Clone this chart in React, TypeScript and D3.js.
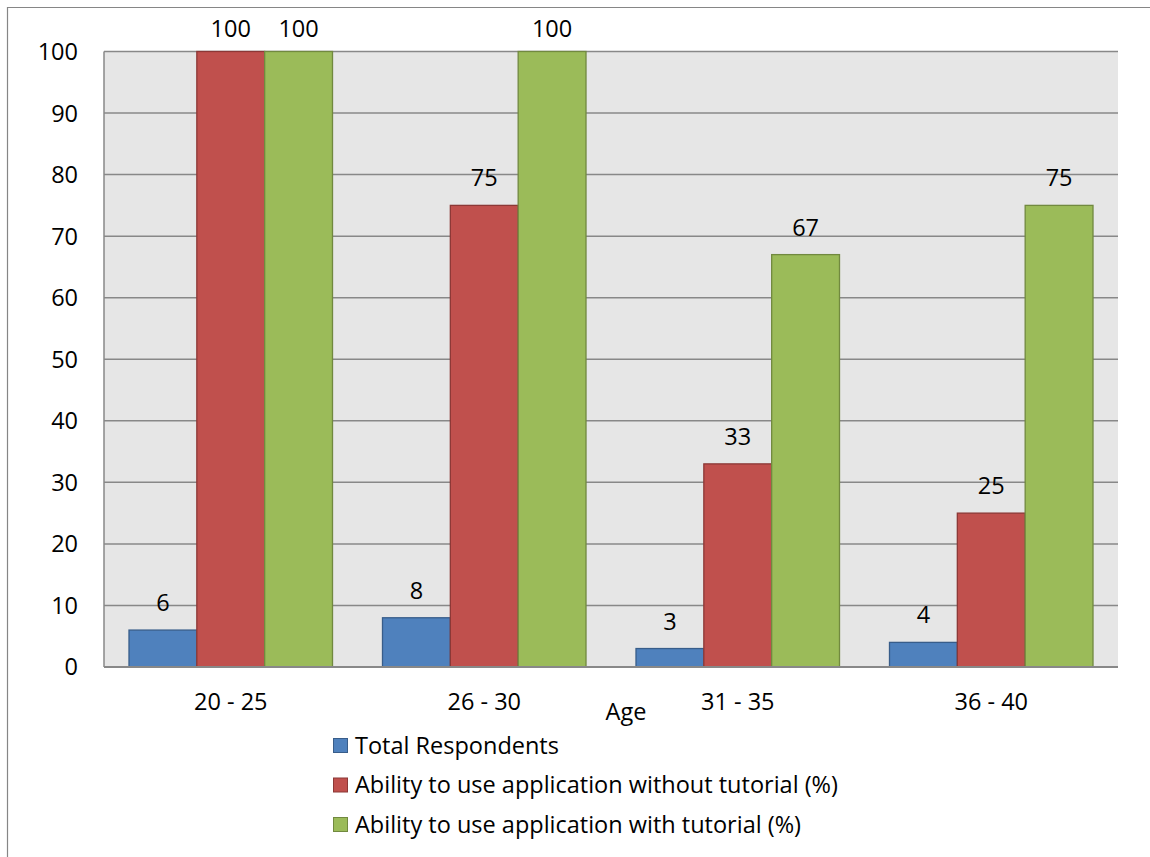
import React from "react";
import * as d3 from "d3";

const ageGroups = ["20 - 25", "26 - 30", "31 - 35", "36 - 40"];
const seriesNames = [
  "Total Respondents",
  "Ability to use application without tutorial (%)",
  "Ability to use application with tutorial (%)",
];
const totalRespondents = [6, 8, 3, 4];
const withoutTutorial = [100, 75, 33, 25];
const withTutorial = [100, 100, 67, 75];
const yTicks = [0, 10, 20, 30, 40, 50, 60, 70, 80, 90, 100];

const fills = ["#4F81BD", "#C0504D", "#9BBB59"];
const strokes = ["#385D8A", "#8C3836", "#71893F"];

const W = 1150;
const H = 857;
const plot = { left: 104, right: 1118, top: 51.5, bottom: 667 };
const FONT = "'Open Sans', Lato, sans-serif";
const FS = 23.5;

export default function App() {
  const seriesValues = [totalRespondents, withoutTutorial, withTutorial];

  const x = d3.scaleBand<string>().domain(ageGroups).range([plot.left, plot.right]).padding(0);
  const groupPad = 25;
  const xInner = d3
    .scaleBand<string>()
    .domain(seriesNames)
    .range([groupPad, x.bandwidth() - groupPad])
    .padding(0);
  const y = d3.scaleLinear().domain([0, 100]).range([plot.bottom, plot.top]);

  return (
    <svg
      width={W}
      height={H}
      style={{ position: "absolute", left: 0, top: 0, background: "#fff" }}
      fontFamily={FONT}
    >
      {/* chart frame */}
      <path d={`M7.5,${H + 2} V7.5 H${W + 2}`} fill="none" stroke="#868686" strokeWidth={1.2} />

      {/* plot area */}
      <rect
        x={plot.left}
        y={plot.top}
        width={plot.right - plot.left}
        height={plot.bottom - plot.top}
        fill="#E6E6E6"
      />
      {yTicks
        .filter((t) => t > 0)
        .map((t) => (
          <line
            key={t}
            x1={plot.left}
            x2={plot.right}
            y1={y(t)}
            y2={y(t)}
            stroke="#888"
            strokeWidth={1.5}
          />
        ))}
      <line x1={plot.left} x2={plot.left} y1={plot.top} y2={plot.bottom} stroke="#888" strokeWidth={1.5} />

      {/* y tick labels */}
      {yTicks.map((t) => (
        <text key={t} x={78} y={y(t)} dy="0.36em" textAnchor="end" fontSize={FS} fill="#000">
          {t}
        </text>
      ))}

      {/* bars */}
      {ageGroups.map((g, gi) => (
        <g key={g} transform={`translate(${x(g)},0)`}>
          {seriesNames.map((s, si) => {
            const v = seriesValues[si][gi];
            return (
              <rect
                key={s}
                x={xInner(s)!}
                y={y(v)}
                width={xInner.bandwidth()}
                height={plot.bottom - y(v)}
                fill={fills[si]}
                stroke={strokes[si]}
                strokeWidth={1.3}
              />
            );
          })}
        </g>
      ))}

      {/* bottom axis */}
      <line x1={plot.left} x2={plot.right} y1={plot.bottom} y2={plot.bottom} stroke="#888" strokeWidth={2} />

      {/* data labels */}
      {ageGroups.map((g, gi) =>
        seriesNames.map((s, si) => {
          const v = seriesValues[si][gi];
          const cx = x(g)! + xInner(s)! + xInner.bandwidth() / 2;
          return (
            <text
              key={`${g}-${s}`}
              x={cx}
              y={Math.max(y(v) - 19, 37)}
              textAnchor="middle"
              fontSize={FS}
              fill="#000"
            >
              {v}
            </text>
          );
        })
      )}

      {/* category labels */}
      {ageGroups.map((g) => (
        <text key={g} x={x(g)! + x.bandwidth() / 2} y={710} textAnchor="middle" fontSize={FS} fill="#000">
          {g}
        </text>
      ))}
      <text x={626} y={720} textAnchor="middle" fontSize={FS} fill="#000">
        Age
      </text>

      {/* legend */}
      {seriesNames.map((s, i) => {
        const cy = 745.5 + i * 39.5;
        return (
          <g key={s}>
            <rect x={333.5} y={cy - 7} width={14} height={14} fill={fills[i]} stroke={strokes[i]} strokeWidth={1} />
            <text x={355} y={cy} dy="0.36em" fontSize={FS} fill="#000">
              {s}
            </text>
          </g>
        );
      })}
    </svg>
  );
}
